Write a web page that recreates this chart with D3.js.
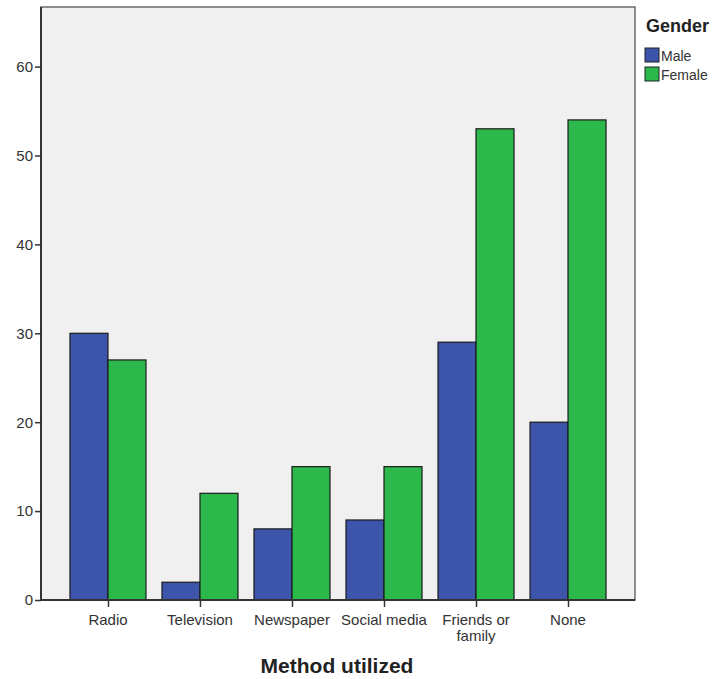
<!DOCTYPE html>
<html><head><meta charset="utf-8">
<script src="https://cdn.jsdelivr.net/npm/d3@7"></script>
<style>body{margin:0;background:#fff;}svg{display:block;font-family:Arial,"Liberation Sans",sans-serif;}</style>
</head><body>
<svg id="c" width="716" height="679"></svg>
<script>
const categories = ["Radio","Television","Newspaper","Social media","Friends or family","None"];
const categoryLines = [["Radio"],["Television"],["Newspaper"],["Social media"],["Friends or","family"],["None"]];
const seriesNames = ["Male","Female"];
const maleValues = [30,2,8,9,29,20];
const femaleValues = [27,12,15,15,53,54];
const yTicks = [0,10,20,30,40,50,60];
const colors = ["#3C55AB","#2DB84B"];

const svg = d3.select("#c");
const L=41, R=635, T=7, B=600;
const x = d3.scalePoint().domain(categories).range([L,R]).padding(0.728);
const y = d3.scaleLinear().domain([0,66.7]).range([B,T]);
const barW = 38;
const xs = d3.scaleBand().domain(seriesNames).range([-barW, barW]).padding(0);

svg.append("rect").attr("x",L).attr("y",T).attr("width",R-L).attr("height",B-T).attr("fill","#F0F0F0");

const data = categories.map((c,i)=>({c, vals:[maleValues[i],femaleValues[i]]}));
const g = svg.append("g");
data.forEach(d=>{
  d.vals.forEach((v,j)=>{
    g.append("rect")
      .attr("x", x(d.c)+xs(seriesNames[j]))
      .attr("y", y(v))
      .attr("width", xs.bandwidth())
      .attr("height", y(0)-y(v))
      .attr("fill", colors[j])
      .attr("stroke","#1a1a1a").attr("stroke-width",1.2);
  });
});

// frame
svg.append("rect").attr("x",L).attr("y",T).attr("width",R-L).attr("height",B-T).attr("fill","none").attr("stroke","#555").attr("stroke-width",1.3);
svg.append("line").attr("x1",L).attr("x2",L).attr("y1",T).attr("y2",B).attr("stroke","#333").attr("stroke-width",2);
svg.append("line").attr("x1",L).attr("x2",R).attr("y1",B).attr("y2",B).attr("stroke","#333").attr("stroke-width",2);

// y axis
const ya = svg.append("g").attr("transform",`translate(${L},0)`)
  .call(d3.axisLeft(y).tickValues(yTicks).tickSize(6).tickPadding(2));
ya.select(".domain").remove();
ya.selectAll("line").attr("stroke","#333").attr("stroke-width",1.5);
ya.selectAll("text").attr("font-size",15).attr("fill","#333").attr("font-family","Arial,'Liberation Sans',sans-serif");

// x axis
const xa = svg.append("g").attr("transform",`translate(0,${B})`)
  .call(d3.axisBottom(x).tickSize(7).tickFormat(""));
xa.select(".domain").remove();
xa.selectAll("line").attr("stroke","#333").attr("stroke-width",1.5);
categories.forEach((c,i)=>{
  const t = svg.append("text").attr("x",x(c)).attr("y",625).attr("text-anchor","middle")
    .attr("font-size",15).attr("fill","#333");
  categoryLines[i].forEach((ln,k)=>t.append("tspan").attr("x",x(c)).attr("dy",k?16:0).text(ln));
});

svg.append("text").attr("x",337).attr("y",673).attr("text-anchor","middle")
  .attr("font-size",21).attr("font-weight","bold").attr("fill","#222").text("Method utilized");

// legend
svg.append("text").attr("x",646).attr("y",32).attr("font-size",18).attr("font-weight","bold").attr("fill","#222").text("Gender");
seriesNames.forEach((s,j)=>{
  svg.append("rect").attr("x",645).attr("y",48+j*19).attr("width",14).attr("height",14)
    .attr("fill",colors[j]).attr("stroke","#222").attr("stroke-width",1);
  svg.append("text").attr("x",661).attr("y",61+j*19).attr("font-size",14).attr("fill","#333").text(s);
});
</script>
</body></html>
